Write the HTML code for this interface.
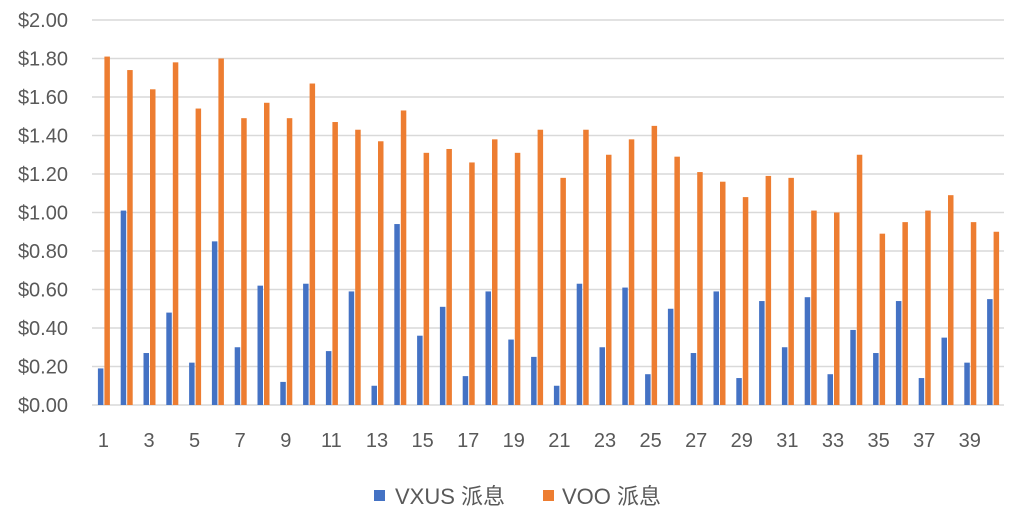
<!DOCTYPE html>
<html><head><meta charset="utf-8"><style>
body{margin:0;background:#fff;}
svg{display:block;font-family:"Liberation Sans","Noto Sans CJK SC",sans-serif;}
</style></head><body>
<svg id="chart" width="1024" height="530">
<g id="grid"></g><g id="ylabels"></g><g id="bars"></g><g id="xlabels"></g>
<g>
<rect x="374" y="490" width="11" height="11" fill="#4472C4"/>
<text x="395" y="504" font-size="22" fill="#595959">VXUS 派息</text>
<rect x="543" y="490" width="11" height="11" fill="#ED7D31"/>
<text x="562" y="504" font-size="22" fill="#595959">VOO 派息</text>
</g>
</svg>
<script>
const vxus=[0.19,1.01,0.27,0.48,0.22,0.85,0.30,0.62,0.12,0.63,0.28,0.59,0.10,0.94,0.36,0.51,0.15,0.59,0.34,0.25,0.10,0.63,0.30,0.61,0.16,0.50,0.27,0.59,0.14,0.54,0.30,0.56,0.16,0.39,0.27,0.54,0.14,0.35,0.22,0.55];
const voo=[1.81,1.74,1.64,1.78,1.54,1.80,1.49,1.57,1.49,1.67,1.47,1.43,1.37,1.53,1.31,1.33,1.26,1.38,1.31,1.43,1.18,1.43,1.30,1.38,1.45,1.29,1.21,1.16,1.08,1.19,1.18,1.01,1.00,1.30,0.89,0.95,1.01,1.09,0.95,0.90];
const yTicks=[0,0.2,0.4,0.6,0.8,1.0,1.2,1.4,1.6,1.8,2.0];
const NS="http://www.w3.org/2000/svg";
const x0=92,x1=1004,yBase=405,yTop=20,yMax=2;
const n=vxus.length,slot=(x1-x0)/n;
function y(v){return yBase-(v/yMax)*(yBase-yTop);}
function cx(i){return x0+slot*(i+0.5);}
function mk(tag,attrs,parent){const e=document.createElementNS(NS,tag);for(const k in attrs)e.setAttribute(k,attrs[k]);document.getElementById(parent).appendChild(e);return e;}
yTicks.forEach(t=>{
 const l=mk('line',{x1:x0,x2:x1,y1:y(t),y2:y(t),stroke:'#D9D9D9','stroke-width':1.5},'grid');
 
 
 const tx=mk('text',{x:68,y:y(t)+7,'text-anchor':'end','font-size':20,fill:'#595959'},'ylabels');
 tx.textContent='$'+t.toFixed(2);
 
 
});
for(let i=0;i<n;i++){
 const b=mk('rect',{x:cx(i)-5.5,y:y(vxus[i]),width:5.5,height:yBase-y(vxus[i]),fill:'#4472C4'},'bars');
 
 
 const o=mk('rect',{x:cx(i)+1,y:y(voo[i]),width:5.5,height:yBase-y(voo[i]),fill:'#ED7D31'},'bars');
 
 
 if(i%2===0){
  const t=mk('text',{x:cx(i),y:447,'text-anchor':'middle','font-size':20,fill:'#595959'},'xlabels');
  t.textContent=String(i+1);
  
  
 }
}
</script>
</body></html>
